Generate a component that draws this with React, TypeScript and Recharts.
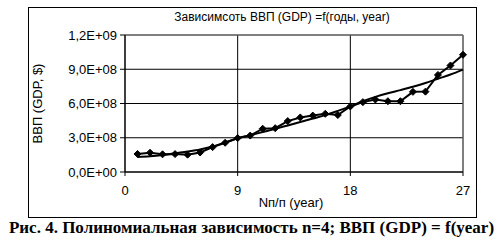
import { CartesianGrid, Label, Line, LineChart, ReferenceLine, XAxis, YAxis } from "recharts";

// year index (1..27)
const years = [1, 2, 3, 4, 5, 6, 7, 8, 9, 10, 11, 12, 13, 14, 15, 16, 17, 18, 19, 20, 21, 22, 23, 24, 25, 26, 27];
// GDP, in units of 1e8 $
const gdp = [1.58, 1.69, 1.55, 1.57, 1.52, 1.71, 2.18, 2.56, 2.97, 3.19, 3.79, 3.84, 4.46, 4.78, 4.94, 5.1, 4.99, 5.74, 6.12, 6.35, 6.2, 6.2, 7.02, 7.04, 8.5, 9.33, 10.27];
// polynomial trend (n=4), in units of 1e8 $
const trend = [1.32, 1.38, 1.49, 1.65, 1.8, 1.98, 2.24, 2.58, 2.95, 3.22, 3.5, 3.78, 4.08, 4.38, 4.68, 4.98, 5.35, 5.75, 6.2, 6.58, 6.9, 7.17, 7.46, 7.8, 8.17, 8.54, 8.97];

const xTicks = [0, 9, 18, 27];
const yTicks = [0, 3e8, 6e8, 9e8, 1.2e9];

const data = years.map((x, i) => ({ x, gdp: gdp[i] * 1e8, trend: trend[i] * 1e8 }));

const sans = "'Liberation Sans', Arial, sans-serif";

function sci(v: number) {
  if (v === 0) return "0,0E+00";
  const exp = Math.floor(Math.log10(v));
  const mant = (v / Math.pow(10, exp)).toFixed(1).replace(".", ",");
  return `${mant}E+${String(exp).padStart(2, "0")}`;
}

function Diamond(props: any) {
  const { cx, cy } = props;
  if (cx == null || cy == null) return null;
  const r = 3.5;
  return (
    <polygon
      points={`${cx},${cy - r} ${cx + r},${cy} ${cx},${cy + r} ${cx - r},${cy}`}
      fill="#000"
      stroke="#000"
    />
  );
}

export default function App() {
  return (
    <div style={{ position: "absolute", left: 0, top: 0, width: 503, height: 246, background: "#fff" }}>
      <div
        style={{
          position: "absolute",
          left: 28,
          top: 7,
          width: 447,
          height: 209,
          border: "1px solid #000",
        }}
      />
      <div
        style={{
          position: "absolute",
          left: 0,
          top: 10,
          width: 564,
          textAlign: "center",
          fontFamily: sans,
          fontSize: 12,
          color: "#000",
        }}
      >
        Зависимсоть ВВП (GDP) =f(годы, year)
      </div>
      <div style={{ position: "absolute", left: 0, top: 0 }}>
        <LineChart width={503} height={246} data={data} margin={{ top: 35, right: 40, bottom: 0, left: 0 }}>
          <CartesianGrid stroke="#000" strokeWidth={1} />
          <XAxis
            type="number"
            dataKey="x"
            domain={[0, 27]}
            ticks={xTicks}
            height={74}
            tickSize={4}
            tickLine={{ stroke: "#000" }}
            axisLine={{ stroke: "#000" }}
            tick={{ fill: "#000", fontSize: 13, fontFamily: sans }}
            tickMargin={10}
          >
            <Label
              value="Nп/п  (year)"
              position="insideTop"
              offset={26}
              dx={-3}
              style={{ fill: "#000", fontSize: 13, fontFamily: sans }}
            />
          </XAxis>
          <YAxis
            type="number"
            domain={[0, 1.2e9]}
            ticks={yTicks}
            width={125}
            tickSize={5}
            tickLine={{ stroke: "#000" }}
            axisLine={{ stroke: "#000" }}
            tickFormatter={sci}
            tick={{ fill: "#000", fontSize: 13, fontFamily: sans }}
            tickMargin={3}
          >
            <Label
              value="ВВП (GDP, $)"
              angle={-90}
              position="insideLeft"
              offset={37}
              style={{ fill: "#000", fontSize: 13, fontFamily: sans, textAnchor: "middle" }}
            />
          </YAxis>
          <ReferenceLine x={27} stroke="#808080" />
          <ReferenceLine y={1.2e9} stroke="#808080" />
          <Line
            type="monotone"
            dataKey="trend"
            stroke="#000"
            strokeWidth={2}
            dot={false}
            activeDot={false}
            isAnimationActive={false}
          />
          <Line
            type="linear"
            dataKey="gdp"
            stroke="#000"
            strokeWidth={2}
            dot={<Diamond />}
            activeDot={false}
            isAnimationActive={false}
          />
        </LineChart>
      </div>
      <div
        style={{
          position: "absolute",
          left: 0,
          top: 218,
          width: 503,
          textAlign: "center",
          fontFamily: "'Liberation Serif', 'Times New Roman', serif",
          fontWeight: "bold",
          fontSize: 17,
          color: "#000",
          whiteSpace: "nowrap",
        }}
      >
        Рис. 4. Полиномиальная зависимость n=4; ВВП (GDP) = f(year)
      </div>
    </div>
  );
}
